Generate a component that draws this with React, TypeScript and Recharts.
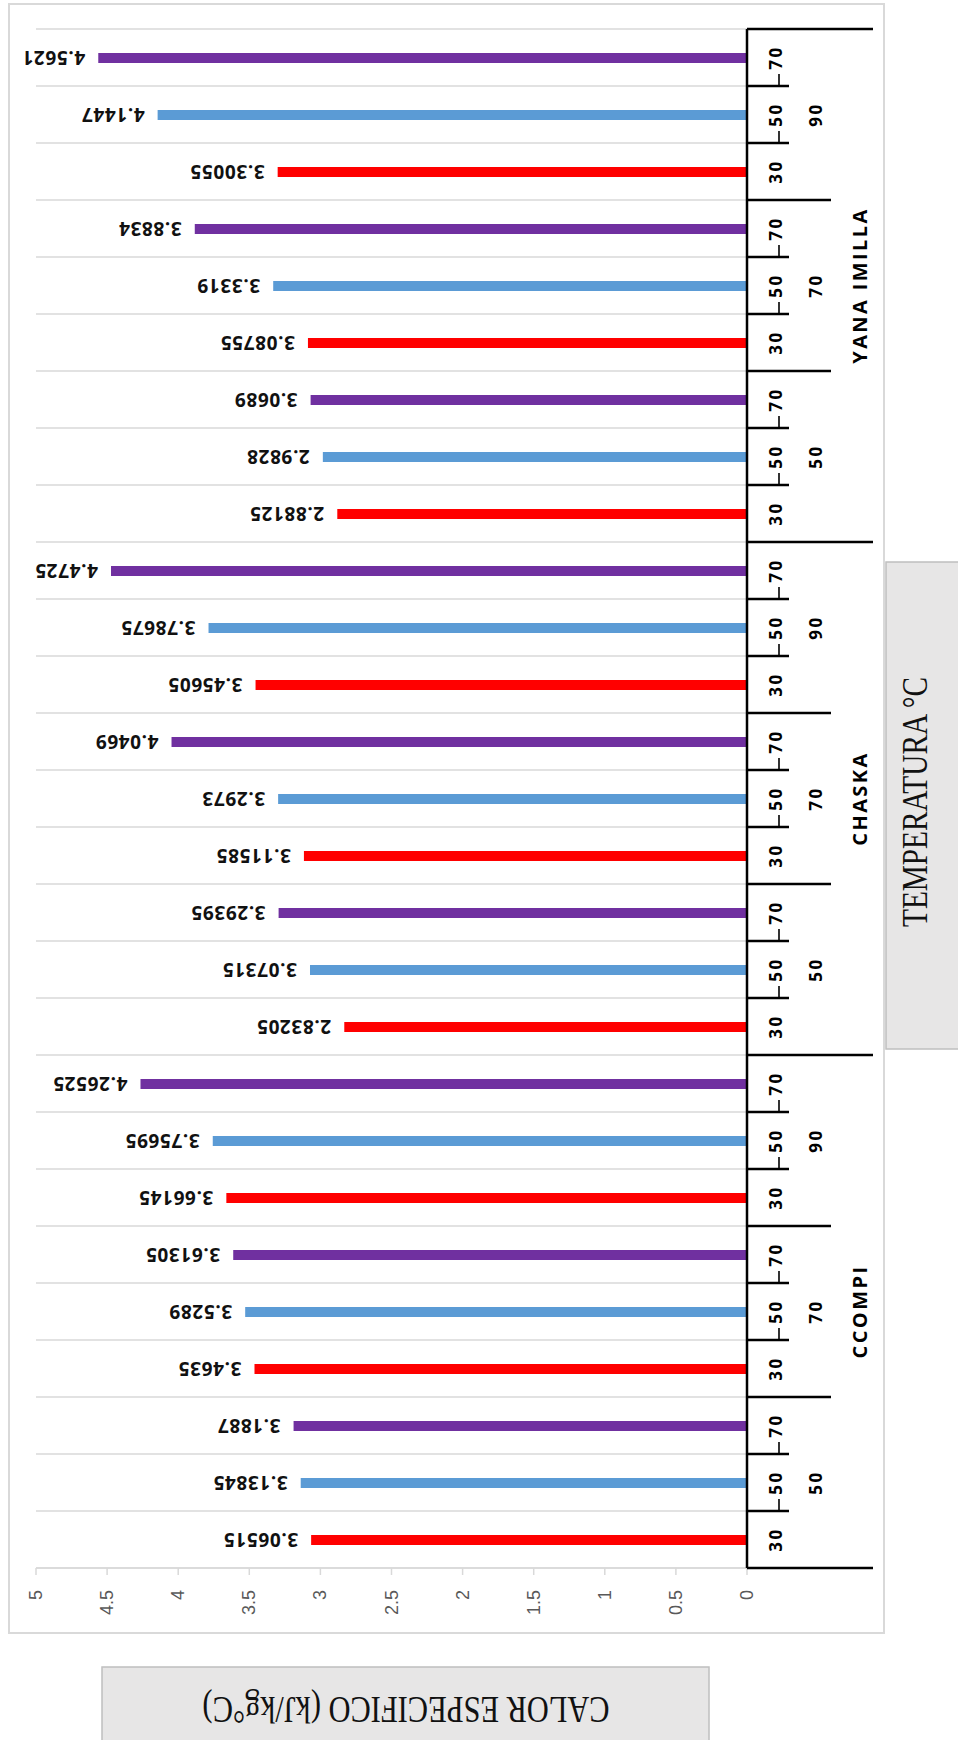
import React from 'react';
import { BarChart, Bar, XAxis, YAxis, CartesianGrid, Cell, LabelList } from 'recharts';

// Grouping levels of the category axis (outer → inner)
const VARIETIES = ['CCOMPI', 'CHASKA', 'YANA IMILLA'];
const DRYING_TEMPS = ['50', '70', '90'];
const SAMPLE_TEMPS = ['30', '50', '70'];
const SAMPLE_COLORS = ['#FF0000', '#5B9BD5', '#7030A0'];

// Specific heat (kJ/kg°C), ordered by drying temp then sample temp
const CCOMPI_VALUES = [3.06515, 3.13845, 3.1887, 3.4635, 3.5289, 3.61305, 3.66145, 3.75695, 4.26525];
const CHASKA_VALUES = [2.83205, 3.07315, 3.29395, 3.11585, 3.2973, 4.0469, 3.45605, 3.78675, 4.4725];
const YANA_IMILLA_VALUES = [2.88125, 2.9828, 3.0689, 3.08755, 3.3319, 3.8834, 3.30055, 4.1447, 4.5621];

const VALUE_TICKS = [0, 0.5, 1, 1.5, 2, 2.5, 3, 3.5, 4, 4.5, 5];

const TEMP_TITLE = 'TEMPERATURA °C';
const HEAT_TITLE = 'CALOR ESPECIFICO (kJ/kg°C)';

const VALUES_BY_VARIETY = [CCOMPI_VALUES, CHASKA_VALUES, YANA_IMILLA_VALUES];

type Row = {
  key: string;
  variety: number;
  dry: number;
  sample: number;
  value: number;
};

const ROWS: Row[] = [];
VARIETIES.forEach((v, vi) => {
  DRYING_TEMPS.forEach((d, di) => {
    SAMPLE_TEMPS.forEach((s, si) => {
      ROWS.push({
        key: `${v}|${d}|${s}`,
        variety: vi,
        dry: di,
        sample: si,
        value: VALUES_BY_VARIETY[vi][di * SAMPLE_TEMPS.length + si],
      });
    });
  });
});

// Layout
const CHART_W = 958;
const CHART_H = 1740;
const MARGIN = { top: 29, right: 0, bottom: 0, left: 36 };
const CAT_AXIS_W = 211;
const VAL_AXIS_H = 172;
const PLOT_RIGHT = CHART_W - MARGIN.right - CAT_AXIS_W;
const PLOT_BOTTOM = CHART_H - MARGIN.bottom - VAL_AXIS_H;
const BAND = (PLOT_BOTTOM - MARGIN.top) / ROWS.length;

const SANS = '"Open Sans", "DejaVu Sans", sans-serif';
const SERIF = '"Liberation Serif", "Times New Roman", serif';

function CategoryTick(props: any) {
  const { y, payload } = props;
  const i = ROWS.findIndex((r) => r.key === payload.value);
  if (i < 0) return null;
  const row = ROWS[i];
  const ax = PLOT_RIGHT;
  const half = BAND / 2;
  const lowerY = y + half;
  const groupSize = SAMPLE_TEMPS.length;
  const varietySize = groupSize * DRYING_TEMPS.length;
  const lowerLen = i % varietySize === 0 ? 126 : i % groupSize === 0 ? 84 : 42;
  const innerX = ax + 35;
  const midX = ax + 75;
  const outerX = ax + 120;
  return (
    <g>
      <line x1={ax} y1={lowerY} x2={ax + lowerLen} y2={lowerY} stroke="#000" strokeWidth={2.5} />
      {i % groupSize !== 0 && (
        <line x1={ax + 32} y1={lowerY - 12} x2={ax + 32} y2={lowerY} stroke="#000" strokeWidth={1.6} />
      )}
      {i === ROWS.length - 1 && (
        <line x1={ax} y1={y - half} x2={ax + 126} y2={y - half} stroke="#000" strokeWidth={2.5} />
      )}
      <text
        x={innerX}
        y={y}
        transform={`rotate(-90 ${innerX} ${y})`}
        textAnchor="middle"
        fontFamily={SANS}
        fontWeight={700}
        fontSize={17}
        letterSpacing={2.5}
        fill="#000"
      >
        {SAMPLE_TEMPS[row.sample]}
      </text>
      {row.sample === 1 && (
        <text
          x={midX}
          y={y}
          transform={`rotate(-90 ${midX} ${y})`}
          textAnchor="middle"
          fontFamily={SANS}
          fontWeight={700}
          fontSize={17}
          letterSpacing={2.5}
          fill="#000"
        >
          {DRYING_TEMPS[row.dry]}
        </text>
      )}
      {row.sample === 1 && row.dry === 1 && (
        <text
          x={outerX}
          y={y}
          transform={`rotate(-90 ${outerX} ${y})`}
          textAnchor="middle"
          fontFamily={SANS}
          fontWeight={700}
          fontSize={20}
          letterSpacing={2.4}
          fill="#000"
        >
          {VARIETIES[row.variety]}
        </text>
      )}
    </g>
  );
}

function ValueTick(props: any) {
  const { x, payload } = props;
  const ty = PLOT_BOTTOM + 22;
  return (
    <text
      x={x}
      y={ty}
      transform={`rotate(-90 ${x} ${ty})`}
      textAnchor="end"
      dominantBaseline="central"
      fontFamily='"Liberation Sans", Arial, sans-serif'
      fontSize={18}
      fill="#595959"
    >
      {payload.value}
    </text>
  );
}

function ValueLabel(props: any) {
  const { x, y, width, height, value } = props;
  const left = Math.min(x, x + width);
  const cy = y + height / 2;
  const tx = left - 13;
  const ty = cy - 7;
  return (
    <text
      x={tx}
      y={ty}
      transform={`rotate(180 ${tx} ${ty})`}
      textAnchor="start"
      fontFamily={SANS}
      fontWeight={700}
      fontSize={19}
      letterSpacing={0.6}
      fill="#111"
    >
      {value}
    </text>
  );
}

export default function App() {
  return (
    <div
      style={{
        position: 'absolute',
        left: 0,
        top: 0,
        width: CHART_W,
        height: CHART_H,
        overflow: 'hidden',
        background: '#fff',
      }}
    >
      <svg width={CHART_W} height={CHART_H} style={{ position: 'absolute', left: 0, top: 0 }}>
        <rect x={9} y={4} width={875} height={1629} fill="#fff" stroke="#d9d9d9" strokeWidth={2} />
        <rect x={886} y={562} width={100} height={487} fill="#e7e6e6" stroke="#bfbfbf" strokeWidth={1.5} />
        <text
          x={927}
          y={802}
          transform="rotate(-90 927 802)"
          textAnchor="middle"
          fontFamily={SERIF}
          fontSize={35}
          textLength={250}
          lengthAdjust="spacingAndGlyphs"
          fill="#111"
        >
          {TEMP_TITLE}
        </text>
        <rect x={102} y={1667} width={607} height={100} fill="#e7e6e6" stroke="#bfbfbf" strokeWidth={1.5} />
        <text
          x={406}
          y={1697}
          transform="rotate(180 406 1697)"
          textAnchor="middle"
          fontFamily={SERIF}
          fontSize={38}
          textLength={407}
          lengthAdjust="spacingAndGlyphs"
          fill="#111"
        >
          {HEAT_TITLE}
        </text>
      </svg>
      <div style={{ position: 'absolute', left: 0, top: 0 }}>
        <BarChart width={CHART_W} height={CHART_H} data={ROWS} layout="vertical" margin={MARGIN}>
          <CartesianGrid
            vertical={false}
            stroke="#d9d9d9"
            strokeWidth={1.5}
            horizontalCoordinatesGenerator={({ offset }: any) =>
              ROWS.map((_, i) => offset.top + (i * offset.height) / ROWS.length).concat(offset.top + offset.height)
            }
          />
          <XAxis
            type="number"
            domain={[0, 5]}
            ticks={VALUE_TICKS}
            reversed
            interval={0}
            height={VAL_AXIS_H}
            tickSize={7}
            axisLine={{ stroke: '#d9d9d9', strokeWidth: 1.5 }}
            tickLine={{ stroke: '#d9d9d9', strokeWidth: 1.5 }}
            tick={ValueTick}
          />
          <YAxis
            type="category"
            dataKey="key"
            orientation="right"
            reversed
            interval={0}
            width={CAT_AXIS_W}
            axisLine={{ stroke: '#000', strokeWidth: 2.5 }}
            tickLine={false}
            tick={CategoryTick}
          />
          <Bar dataKey="value" barSize={10} isAnimationActive={false}>
            {ROWS.map((r) => (
              <Cell key={r.key} fill={SAMPLE_COLORS[r.sample]} />
            ))}
            <LabelList dataKey="value" content={ValueLabel} />
          </Bar>
        </BarChart>
      </div>
    </div>
  );
}
